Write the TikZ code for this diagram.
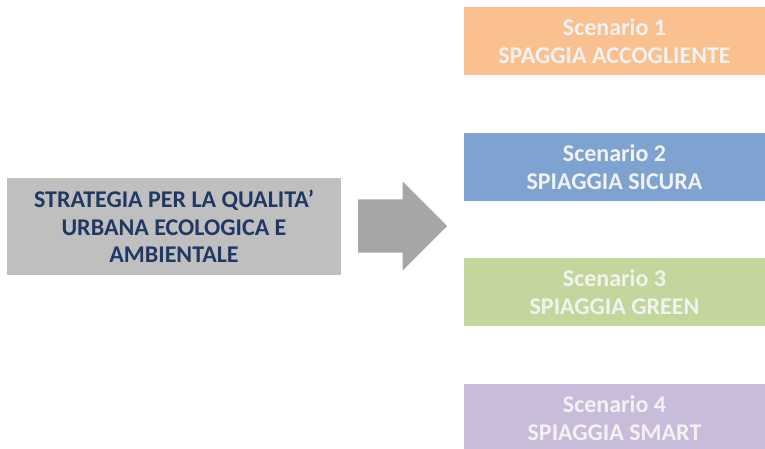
\documentclass[tikz,border=0pt]{standalone}
\usepackage{fontspec}
\setmainfont{Carlito}
\usetikzlibrary{shapes.arrows}
\definecolor{stratgray}{RGB}{191,191,191}
\definecolor{stratnavy}{RGB}{31,56,100}
\definecolor{arrowgray}{RGB}{166,166,166}
\definecolor{scenorange}{RGB}{250,192,143}
\definecolor{scenblue}{RGB}{127,163,209}
\definecolor{scengreen}{RGB}{195,214,155}
\definecolor{scenpurple}{RGB}{200,188,218}
\definecolor{scentext}{RGB}{242,242,242}
\tikzset{
  strategy/.style={fill=stratgray, text=stratnavy, minimum width=334pt, minimum height=97pt,
    align=center, font=\fontsize{24}{27.5}\selectfont\bfseries},
  scenario/.style={minimum width=301pt, minimum height=68pt, text=scentext,
    align=center, font=\fontsize{24}{27.5}\selectfont\bfseries},
  bigarrow/.style={single arrow, fill=arrowgray, inner sep=0pt, minimum height=89pt,
    single arrow head extend=18pt, single arrow head indent=0pt}
}
\begin{document}
\begin{tikzpicture}[x=1pt, y=-1pt]
  \useasboundingbox (0,0) rectangle (765,448);
  %Define nodes
  \node[strategy] (strat) at (174,226.5) {STRATEGIA PER LA QUALITA'\\URBANA ECOLOGICA E\\AMBIENTALE};
  \node[bigarrow, anchor=tail] (arrow) at (358,226) {\rule{0pt}{53pt}};

  \node[scenario, fill=scenorange] (sc_1) at (614.5,41) {Scenario 1\\SPAGGIA ACCOGLIENTE};
  \node[scenario, fill=scenblue]   (sc_2) at (614.5,167) {Scenario 2\\SPIAGGIA SICURA};
  \node[scenario, fill=scengreen]  (sc_3) at (614.5,292) {Scenario 3\\SPIAGGIA GREEN};
  \node[scenario, fill=scenpurple] (sc_4) at (614.5,418) {Scenario 4\\SPIAGGIA SMART};
\end{tikzpicture}
\end{document}
